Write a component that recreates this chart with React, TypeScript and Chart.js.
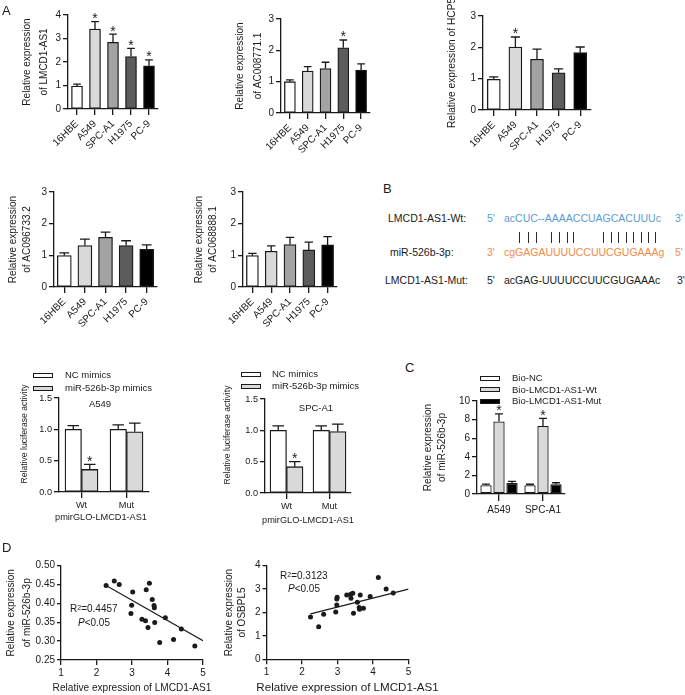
import React, { useEffect, useRef } from 'react';
import { Chart, registerables } from 'chart.js';

Chart.register(...registerables);

const FONT = "'Liberation Sans', Arial, sans-serif";
const INK = '#1a1a1a';
Chart.defaults.font.family = FONT;
Chart.defaults.color = INK;

// ---------- Panel A : qRT-PCR in cell lines ----------
const cellLines = ['16HBE', 'A549', 'SPC-A1', 'H1975', 'PC-9'];
const cellColors = ['#ffffff', '#d9d9d9', '#a3a3a3', '#5c5c5c', '#000000'];
const lmcd1Mean = [0.98, 3.4, 2.84, 2.23, 1.84];
const lmcd1Err = [0.08, 0.32, 0.35, 0.35, 0.25];
const lmcd1Sig = [false, true, true, true, true];
const ac008771Mean = [1.0, 1.34, 1.42, 2.08, 1.37];
const ac008771Err = [0.06, 0.14, 0.2, 0.25, 0.2];
const ac008771Sig = [false, false, false, true, false];
const hcp5Mean = [0.98, 2.01, 1.62, 1.19, 1.83];
const hcp5Err = [0.08, 0.32, 0.32, 0.12, 0.18];
const hcp5Sig = [false, true, false, false, false];
const ac096733Mean = [0.99, 1.31, 1.57, 1.31, 1.19];
const ac096733Err = [0.09, 0.2, 0.16, 0.15, 0.14];
const ac068888Mean = [0.99, 1.13, 1.34, 1.17, 1.33];
const ac068888Err = [0.07, 0.17, 0.23, 0.25, 0.26];

// ---------- Luciferase ----------
const reporters = ['Wt', 'Mut'];
const a549NC = [1.0, 1.0];
const a549NCErr = [0.06, 0.07];
const a549Mimic = [0.36, 0.96];
const a549MimicErr = [0.08, 0.14];
const a549MimicSig = [true, false];
const spcNC = [1.0, 1.0];
const spcNCErr = [0.07, 0.07];
const spcMimic = [0.42, 0.98];
const spcMimicErr = [0.08, 0.12];
const spcMimicSig = [true, false];

// ---------- Panel C : RNA pull-down ----------
const pulldownCells = ['A549', 'SPC-A1'];
const bioNC = [0.95, 0.95];
const bioNCErr = [0.12, 0.1];
const bioWt = [7.79, 7.32];
const bioWtErr = [0.82, 0.82];
const bioWtSig = [true, true];
const bioMut = [1.18, 1.04];
const bioMutErr = [0.18, 0.17];

// ---------- Panel D : correlations ----------
const lmcdX_mir = [2.27, 2.5, 2.64, 3.02, 2.99, 2.97, 3.4, 3.49, 3.57, 3.62, 3.63, 3.28, 3.38, 3.45, 3.64, 3.94, 4.39, 4.17, 3.78, 4.77];
const mir526Y = [0.447, 0.459, 0.45, 0.43, 0.395, 0.373, 0.436, 0.453, 0.41, 0.394, 0.388, 0.358, 0.354, 0.336, 0.349, 0.362, 0.332, 0.304, 0.296, 0.287];
const mirFitX = [2.27, 5.0];
const mirFitY = [0.447, 0.301];
const lmcdX_osb = [2.24, 2.47, 2.61, 2.95, 2.98, 2.98, 2.99, 3.26, 3.37, 3.38, 3.43, 3.45, 3.56, 3.61, 3.64, 3.62, 3.73, 3.92, 4.15, 4.37, 4.57];
const osbpl5Y = [1.81, 1.39, 1.92, 2.02, 2.32, 2.58, 2.65, 2.75, 2.78, 2.61, 2.82, 1.97, 2.44, 2.21, 2.75, 2.14, 2.18, 2.68, 3.5, 3.0, 2.83];
const osbFitX = [2.24, 5.0];
const osbFitY = [1.94, 3.0];

// ---------- plugin: error bars + significance stars ----------
const errorBarPlugin = {
  id: 'errorBars',
  afterDatasetsDraw(chart: any) {
    const { ctx } = chart;
    const yScale = chart.scales.y;
    chart.data.datasets.forEach((ds: any, di: number) => {
      if (!ds.errors) return;
      const meta = chart.getDatasetMeta(di);
      meta.data.forEach((bar: any, i: number) => {
        const v = ds.data[i];
        const top = yScale.getPixelForValue(v + ds.errors[i]);
        const x = bar.x;
        const half = bar.width * 0.35;
        ctx.save();
        ctx.strokeStyle = INK;
        ctx.lineWidth = 1.3;
        ctx.beginPath();
        ctx.moveTo(x, bar.y);
        ctx.lineTo(x, top);
        ctx.moveTo(x - half, top);
        ctx.lineTo(x + half, top);
        ctx.stroke();
        if (ds.stars && ds.stars[i]) {
          ctx.fillStyle = INK;
          ctx.font = `14px ${FONT}`;
          ctx.textAlign = 'center';
          ctx.textBaseline = 'alphabetic';
          ctx.fillText('*', x, top + 1.5);
        }
        ctx.restore();
      });
    });
  },
};

// ---------- plugin: axis titles that may be longer than their axis ----------
const looseTitlePlugin = {
  id: 'looseTitles',
  afterDraw(chart: any, _args: any, opts: any) {
    const ctx = chart.ctx;
    const draw = (t: any, axis: 'x' | 'y') => {
      if (!t || !t.text) return;
      const sc = chart.scales[axis];
      ctx.save();
      ctx.fillStyle = INK;
      ctx.font = `${t.size}px ${FONT}`;
      ctx.textAlign = 'center';
      ctx.textBaseline = 'middle';
      if (axis === 'x') {
        ctx.fillText(t.text, (sc.left + sc.right) / 2 + (t.shift || 0), sc.bottom - t.offset);
      } else {
        ctx.translate(sc.left + t.offset, (sc.top + sc.bottom) / 2 + (t.shift || 0));
        ctx.rotate(-Math.PI / 2);
        ctx.fillText(t.text, 0, 0);
      }
      ctx.restore();
    };
    draw(opts.x, 'x');
    draw(opts.y, 'y');
  },
};

type Loose = { text: string; size: number; offset: number; shift?: number };
type DS = { label?: string; data: number[]; errors: number[]; stars?: boolean[]; colors: string | string[] };
type BarSpec = {
  labels: string[];
  datasets: DS[];
  yMax: number;
  yStep: number;
  yDec: number;
  yTitle?: string | string[];
  titleLine?: number;
  titlePad?: number;
  looseX?: Loose;
  looseY?: Loose;
  yAxisW: number;
  xAxisH: number;
  pad: { top: number; right: number; bottom: number; left: number };
  barThickness?: number;
  catPct?: number;
  barPct?: number;
  rotate: number;
  tickLenX: number;
  tickPadX: number;
  fs: number;
};

const axisGrid = (len: number) => ({
  display: true,
  drawOnChartArea: false,
  drawTicks: true,
  tickLength: len,
  color: INK,
  lineWidth: 1.3,
});

function barConfig(s: BarSpec): any {
  return {
    type: 'bar',
    data: {
      labels: s.labels,
      datasets: s.datasets.map((d) => ({
        label: d.label,
        data: d.data,
        errors: d.errors,
        stars: d.stars,
        backgroundColor: d.colors,
        borderColor: INK,
        borderWidth: 1.3,
        borderSkipped: false,
        barThickness: s.barThickness,
        categoryPercentage: s.catPct ?? 0.8,
        barPercentage: s.barPct ?? 0.9,
      })),
    },
    options: {
      responsive: false,
      animation: false,
      devicePixelRatio: 1,
      events: [],
      layout: { padding: s.pad },
      plugins: {
        legend: { display: false },
        tooltip: { enabled: false },
        looseTitles: { x: s.looseX, y: s.looseY },
      },
      scales: {
        x: {
          grid: { ...axisGrid(s.tickLenX), offset: false },
          border: { display: true, color: INK, width: 1.3 },
          ticks: {
            autoSkip: false,
            minRotation: s.rotate,
            maxRotation: s.rotate,
            padding: s.tickPadX,
            color: INK,
            font: { size: s.fs },
          },
          title: { display: false },
          afterFit: (sc: any) => {
            sc.height = s.xAxisH;
          },
        },
        y: {
          min: 0,
          max: s.yMax,
          grid: axisGrid(5),
          border: { display: true, color: INK, width: 1.3 },
          ticks: {
            stepSize: s.yStep,
            padding: 2,
            color: INK,
            font: { size: s.fs },
            callback: (v: any) => Number(v).toFixed(s.yDec),
          },
          title: s.yTitle
            ? {
                display: true,
                text: s.yTitle,
                color: INK,
                font: { size: s.fs, lineHeight: `${s.titleLine}px` },
                padding: { top: s.titlePad, bottom: 0 },
              }
            : { display: false },
          afterFit: (sc: any) => {
            sc.width = s.yAxisW;
          },
        },
      },
    },
    plugins: [errorBarPlugin, looseTitlePlugin],
  };
}

type ScatterSpec = {
  xs: number[];
  ys: number[];
  fitX: number[];
  fitY: number[];
  yMin: number;
  yMax: number;
  yStep: number;
  yDec: number;
  yTitle: string[];
  titleLine: number;
  titlePad: number;
  looseX: Loose;
  yAxisW: number;
  xAxisH: number;
  pad: { top: number; right: number; bottom: number; left: number };
};

function scatterConfig(s: ScatterSpec): any {
  return {
    type: 'scatter',
    data: {
      datasets: [
        {
          data: s.xs.map((x, i) => ({ x, y: s.ys[i] })),
          pointRadius: 2.5,
          pointBackgroundColor: INK,
          pointBorderWidth: 0,
          showLine: false,
        },
        {
          type: 'line',
          data: s.fitX.map((x, i) => ({ x, y: s.fitY[i] })),
          borderColor: INK,
          borderWidth: 1.1,
          pointRadius: 0,
          showLine: true,
          fill: false,
        },
      ],
    },
    options: {
      responsive: false,
      animation: false,
      devicePixelRatio: 1,
      events: [],
      layout: { padding: s.pad },
      plugins: {
        legend: { display: false },
        tooltip: { enabled: false },
        looseTitles: { x: s.looseX },
      },
      scales: {
        x: {
          type: 'linear',
          min: 1,
          max: 5,
          grid: axisGrid(5),
          border: { display: true, color: INK, width: 1.3 },
          ticks: { stepSize: 1, padding: 2, color: INK, font: { size: 10 } },
          title: { display: false },
          afterFit: (sc: any) => {
            sc.height = s.xAxisH;
          },
        },
        y: {
          min: s.yMin,
          max: s.yMax,
          grid: axisGrid(4),
          border: { display: true, color: INK, width: 1.3 },
          ticks: {
            stepSize: s.yStep,
            padding: 2,
            color: INK,
            font: { size: 10 },
            callback: (v: any) => Number(v).toFixed(s.yDec),
          },
          title: {
            display: true,
            text: s.yTitle,
            color: INK,
            font: { size: 10, lineHeight: `${s.titleLine}px` },
            padding: { top: s.titlePad, bottom: 0 },
          },
          afterFit: (sc: any) => {
            sc.width = s.yAxisW;
          },
        },
      },
    },
    plugins: [looseTitlePlugin],
  };
}

function ChartBox({ x, y, w, h, make }: { x: number; y: number; w: number; h: number; make: () => any }) {
  const ref = useRef<HTMLCanvasElement>(null);
  useEffect(() => {
    const chart = new Chart(ref.current as HTMLCanvasElement, make());
    return () => chart.destroy();
  }, []);
  return (
    <canvas
      ref={ref}
      width={w}
      height={h}
      style={{ position: 'absolute', left: x, top: y, width: w, height: h }}
    />
  );
}

function T({
  x,
  y,
  children,
  size = 10,
  color = INK,
  align = 'left',
}: {
  x: number;
  y: number;
  children: any;
  size?: number;
  color?: string;
  align?: 'left' | 'center' | 'right';
}) {
  const tx = align === 'center' ? '-50%' : align === 'right' ? '-100%' : '0';
  return (
    <div
      style={{
        position: 'absolute',
        left: x,
        top: y,
        transform: `translate(${tx}, -50%)`,
        fontSize: size,
        lineHeight: 1,
        fontFamily: FONT,
        color,
        whiteSpace: 'nowrap',
      }}
    >
      {children}
    </div>
  );
}

function LegendBox({ x, y, fill }: { x: number; y: number; fill: string }) {
  return (
    <div
      style={{
        position: 'absolute',
        left: x,
        top: y - 2.5,
        width: 20,
        height: 5,
        boxSizing: 'border-box',
        border: `1.3px solid ${INK}`,
        background: fill,
      }}
    />
  );
}

const BLUE = '#5b9bd5';
const ORANGE = '#ef8a47';
const pairX = [519, 528, 536, 551, 559, 567, 573, 603, 611, 618, 626, 633, 641, 648, 655];

const qTitle = (name: string) => ['Relative expression', `of ${name}`];
const FA = 10; // panel A font
const FL = 9.2; // luciferase font
const FB = 10.5; // panel B font
const FLEG = 9.5; // legend font

export default function App() {
  return (
    <div
      style={{
        position: 'absolute',
        left: 0,
        top: 0,
        width: 685,
        height: 695,
        background: '#ffffff',
        overflow: 'hidden',
        fontFamily: FONT,
      }}
    >
      {/* Panel A top row */}
      <ChartBox
        x={0}
        y={0}
        w={175}
        h={170}
        make={() =>
          barConfig({
            labels: cellLines,
            datasets: [{ data: lmcd1Mean, errors: lmcd1Err, stars: lmcd1Sig, colors: cellColors }],
            yMax: 4,
            yStep: 1,
            yDec: 0,
            yTitle: qTitle('LMCD1-AS1'),
            titleLine: 17,
            titlePad: 18.5,
            yAxisW: 68,
            xAxisH: 61,
            pad: { top: 15, right: 17, bottom: 0, left: 0 },
            barThickness: 11,
            rotate: 45,
            tickLenX: 6,
            tickPadX: 3,
            fs: FA,
          })
        }
      />
      <ChartBox
        x={190}
        y={0}
        w={195}
        h={170}
        make={() =>
          barConfig({
            labels: cellLines,
            datasets: [{ data: ac008771Mean, errors: ac008771Err, stars: ac008771Sig, colors: cellColors }],
            yMax: 3,
            yStep: 1,
            yDec: 0,
            yTitle: qTitle('AC008771.1'),
            titleLine: 18,
            titlePad: 41,
            yAxisW: 91,
            xAxisH: 57,
            pad: { top: 19, right: 15, bottom: 0, left: 0 },
            barThickness: 11,
            rotate: 45,
            tickLenX: 6,
            tickPadX: 3,
            fs: FA,
          })
        }
      />
      <ChartBox
        x={440}
        y={0}
        w={245}
        h={170}
        make={() =>
          barConfig({
            labels: cellLines,
            datasets: [{ data: hcp5Mean, errors: hcp5Err, stars: hcp5Sig, colors: cellColors }],
            yMax: 3,
            yStep: 1,
            yDec: 0,
            looseY: { text: 'Relative expression of HCP5', size: 10.2, offset: 12 },
            yAxisW: 43,
            xAxisH: 60,
            pad: { top: 16, right: 94, bottom: 0, left: 0 },
            barThickness: 13,
            rotate: 45,
            tickLenX: 6,
            tickPadX: 3,
            fs: FA,
          })
        }
      />

      {/* Panel A middle row */}
      <ChartBox
        x={0}
        y={170}
        w={180}
        h={175}
        make={() =>
          barConfig({
            labels: cellLines,
            datasets: [{ data: ac096733Mean, errors: ac096733Err, colors: cellColors }],
            yMax: 3,
            yStep: 1,
            yDec: 0,
            yTitle: qTitle('AC096733.2'),
            titleLine: 14,
            titlePad: 6.7,
            yAxisW: 54,
            xAxisH: 58,
            pad: { top: 22, right: 23, bottom: 0, left: 0 },
            barThickness: 14,
            rotate: 45,
            tickLenX: 6,
            tickPadX: 3,
            fs: FA,
          })
        }
      />
      <ChartBox
        x={185}
        y={170}
        w={165}
        h={175}
        make={() =>
          barConfig({
            labels: cellLines,
            datasets: [{ data: ac068888Mean, errors: ac068888Err, colors: cellColors }],
            yMax: 3,
            yStep: 1,
            yDec: 0,
            yTitle: qTitle('AC068888.1'),
            titleLine: 13.5,
            titlePad: 7.75,
            yAxisW: 58,
            xAxisH: 58,
            pad: { top: 22, right: 13, bottom: 0, left: 0 },
            barThickness: 12,
            rotate: 45,
            tickLenX: 6,
            tickPadX: 3,
            fs: FA,
          })
        }
      />

      {/* Luciferase A549 */}
      <ChartBox
        x={0}
        y={365}
        w={175}
        h={165}
        make={() =>
          barConfig({
            labels: reporters,
            datasets: [
              { label: 'NC mimics', data: a549NC, errors: a549NCErr, colors: '#ffffff' },
              { label: 'miR-526b-3p mimics', data: a549Mimic, errors: a549MimicErr, stars: a549MimicSig, colors: '#d9d9d9' },
            ],
            yMax: 1.5,
            yStep: 0.5,
            yDec: 1,
            looseY: { text: 'Relative luciferase activity', size: 8.6, offset: 25, shift: -11 },
            looseX: { text: 'pmirGLO-LMCD1-AS1', size: FL, offset: 13, shift: -3 },
            yAxisW: 59,
            xAxisH: 38,
            pad: { top: 33, right: 26, bottom: 0, left: 0 },
            barThickness: 16.5,
            rotate: 0,
            tickLenX: 6,
            tickPadX: 2,
            fs: FL,
          })
        }
      />
      {/* Luciferase SPC-A1 */}
      <ChartBox
        x={200}
        y={365}
        w={175}
        h={165}
        make={() =>
          barConfig({
            labels: reporters,
            datasets: [
              { label: 'NC mimics', data: spcNC, errors: spcNCErr, colors: '#ffffff' },
              { label: 'miR-526b-3p mimics', data: spcMimic, errors: spcMimicErr, stars: spcMimicSig, colors: '#d9d9d9' },
            ],
            yMax: 1.5,
            yStep: 0.5,
            yDec: 1,
            looseY: { text: 'Relative luciferase activity', size: 8.6, offset: 28, shift: -11 },
            looseX: { text: 'pmirGLO-LMCD1-AS1', size: FL, offset: 10 },
            yAxisW: 65,
            xAxisH: 37,
            pad: { top: 34, right: 24, bottom: 0, left: 0 },
            barThickness: 16.5,
            rotate: 0,
            tickLenX: 6,
            tickPadX: 2,
            fs: FL,
          })
        }
      />
      {/* Panel C */}
      <ChartBox
        x={415}
        y={390}
        w={200}
        h={140}
        make={() =>
          barConfig({
            labels: pulldownCells,
            datasets: [
              { label: 'Bio-NC', data: bioNC, errors: bioNCErr, colors: '#ffffff' },
              { label: 'Bio-LMCD1-AS1-Wt', data: bioWt, errors: bioWtErr, stars: bioWtSig, colors: '#d9d9d9' },
              { label: 'Bio-LMCD1-AS1-Mut', data: bioMut, errors: bioMutErr, colors: '#000000' },
            ],
            yMax: 10,
            yStep: 2,
            yDec: 0,
            yTitle: qTitle('miR-526b-3p'),
            titleLine: 14,
            titlePad: 6,
            yAxisW: 62,
            xAxisH: 36,
            pad: { top: 11, right: 50, bottom: 0, left: 0 },
            catPct: 0.886,
            barPct: 0.87,
            rotate: 0,
            tickLenX: 7,
            tickPadX: 3,
            fs: 10,
          })
        }
      />
      {/* Panel D */}
      <ChartBox
        x={0}
        y={555}
        w={215}
        h={140}
        make={() =>
          scatterConfig({
            xs: lmcdX_mir,
            ys: mir526Y,
            fitX: mirFitX,
            fitY: mirFitY,
            yMin: 0.25,
            yMax: 0.5,
            yStep: 0.05,
            yDec: 2,
            yTitle: qTitle('miR-526b-3p'),
            titleLine: 16,
            titlePad: 3,
            looseX: { text: 'Relative expression of LMCD1-AS1', size: 10.1, offset: 7 },
            yAxisW: 61,
            xAxisH: 35,
            pad: { top: 10.5, right: 12, bottom: 0, left: 0 },
          })
        }
      />
      <ChartBox
        x={215}
        y={555}
        w={250}
        h={140}
        make={() =>
          scatterConfig({
            xs: lmcdX_osb,
            ys: osbpl5Y,
            fitX: osbFitX,
            fitY: osbFitY,
            yMin: 0,
            yMax: 4,
            yStep: 1,
            yDec: 0,
            yTitle: qTitle('OSBPL5'),
            titleLine: 13,
            titlePad: 7.5,
            looseX: { text: 'Relative expression of LMCD1-AS1', size: 11.6, offset: 7, shift: 10 },
            yAxisW: 51.5,
            xAxisH: 35.7,
            pad: { top: 10.7, right: 56.5, bottom: 0, left: 0 },
          })
        }
      />

      {/* Panel letters */}
      <T x={2} y={10} size={13}>A</T>
      <T x={383} y={188} size={13}>B</T>
      <T x={405} y={367} size={13}>C</T>
      <T x={2} y={547} size={13}>D</T>

      {/* Panel B: sequences */}
      <T x={388} y={218} size={FB}>LMCD1-AS1-Wt:</T>
      <T x={487} y={218} size={FB} color={BLUE}>5'</T>
      <T x={504} y={218} size={FB} color={BLUE}>acCUC--AAAACCUAGCACUUUc</T>
      <T x={675} y={218} size={FB} color={BLUE}>3'</T>
      {pairX.map((px) => (
        <div
          key={px}
          style={{ position: 'absolute', left: px, top: 232, width: 1.4, height: 11, background: '#2a2a2a' }}
        />
      ))}
      <T x={390} y={252} size={FB}>miR-526b-3p:</T>
      <T x={487} y={252} size={FB} color={ORANGE}>3'</T>
      <T x={504} y={252} size={FB} color={ORANGE}>cgGAGAUUUUCCUUCGUGAAAg</T>
      <T x={675} y={252} size={FB} color={ORANGE}>5'</T>
      <T x={385} y={280} size={FB}>LMCD1-AS1-Mut:</T>
      <T x={487} y={280} size={FB}>5'</T>
      <T x={504} y={280} size={FB}>acGAG-UUUUCCUUCGUGAAAc</T>
      <T x={677} y={280} size={FB}>3'</T>

      {/* Luciferase legends */}
      <LegendBox x={33} y={375} fill="#ffffff" />
      <T x={65} y={375} size={FLEG}>NC mimics</T>
      <LegendBox x={33} y={388} fill="#d9d9d9" />
      <T x={65} y={388} size={FLEG}>miR-526b-3p mimics</T>
      <T x={100} y={403.5} size={FLEG} align="center">A549</T>

      <LegendBox x={241} y={374} fill="#ffffff" />
      <T x={272} y={374} size={FLEG}>NC mimics</T>
      <LegendBox x={241} y={386} fill="#d9d9d9" />
      <T x={272} y={386} size={FLEG}>miR-526b-3p mimics</T>
      <T x={316} y={407.5} size={FLEG} align="center">SPC-A1</T>

      {/* Panel C legend */}
      <LegendBox x={480} y={378} fill="#ffffff" />
      <T x={512} y={378} size={FLEG}>Bio-NC</T>
      <LegendBox x={480} y={389.5} fill="#d9d9d9" />
      <T x={512} y={389.5} size={FLEG}>Bio-LMCD1-AS1-Wt</T>
      <LegendBox x={480} y={401} fill="#000000" />
      <T x={512} y={401} size={FLEG}>Bio-LMCD1-AS1-Mut</T>

      {/* Panel D stats */}
      <T x={70} y={609} size={10}>
        R<sup style={{ fontSize: 7, verticalAlign: 'top', lineHeight: 1 }}>2</sup>=0.4457
      </T>
      <T x={78} y={623} size={10}>
        <i>P</i>&lt;0.05
      </T>
      <T x={280} y={576} size={10}>
        R<sup style={{ fontSize: 7, verticalAlign: 'top', lineHeight: 1 }}>2</sup>=0.3123
      </T>
      <T x={288} y={589} size={10}>
        <i>P</i>&lt;0.05
      </T>
    </div>
  );
}
